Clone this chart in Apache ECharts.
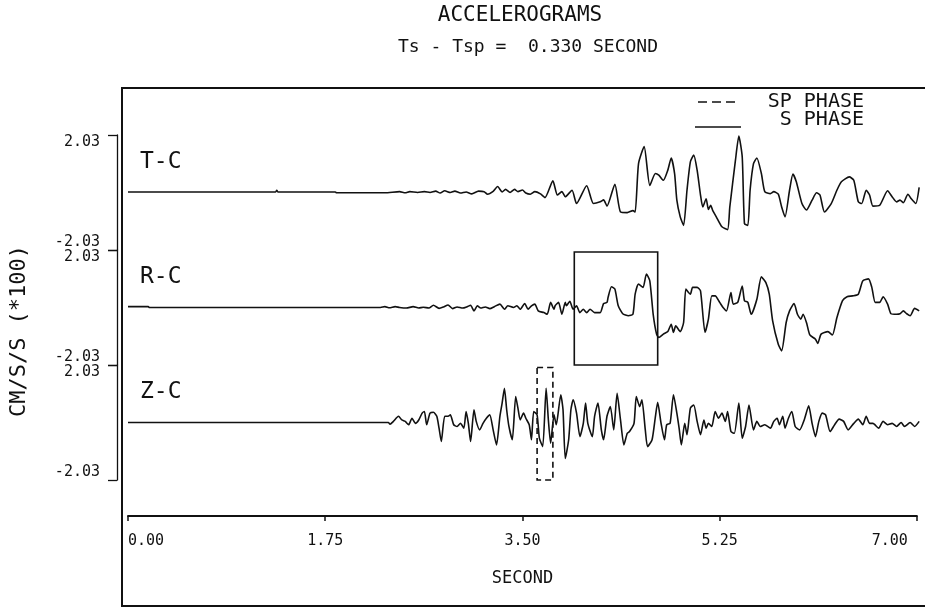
<!DOCTYPE html>
<html>
<head>
<meta charset="utf-8">
<script src="https://cdn.jsdelivr.net/npm/echarts@6.0.0/dist/echarts.min.js"></script>
<style>
  html, body { margin: 0; background: #fff; }
  #chart { width: 925px; height: 609px; }
</style>
</head>
<body>
<div id="chart"></div>
<script>
// accelerogram traces, [seconds, cm/s/s (*100)]
const traceNames = ['T-C', 'R-C', 'Z-C'];

const tcTrace = [
  [0, 0.02], [1.31, 0.02], [1.32, 0.08], [1.33, 0.02], [1.84, 0.02], [1.85, -0.01], [2.28, -0.01],
  [2.41, 0.03], [2.46, -0.01], [2.50, 0.03], [2.57, 0], [2.63, 0.03], [2.68, 0], [2.73, 0.05],
  [2.77, -0.02], [2.81, 0.06], [2.86, 0], [2.90, 0.05], [2.95, -0.02], [3.00, 0.02], [3.05, -0.05],
  [3.11, 0.05], [3.16, 0.03], [3.19, -0.06], [3.24, 0.04], [3.28, 0.21], [3.32, 0.02], [3.35, 0.11],
  [3.39, 0], [3.43, 0.11], [3.46, 0.03], [3.50, 0.09], [3.53, -0.02], [3.57, -0.06], [3.61, 0.03],
  [3.66, -0.05], [3.70, -0.18], [3.77, 0.41], [3.81, -0.09], [3.85, 0.03], [3.88, -0.15], [3.94, 0.08],
  [3.98, -0.39], [4.07, 0.24], [4.13, -0.39], [4.19, -0.33], [4.22, -0.26], [4.25, -0.48], [4.32, 0.29],
  [4.37, -0.69], [4.43, -0.71], [4.48, -0.64], [4.50, -0.69], [4.53, 1.02], [4.58, 1.62], [4.63, 0.25],
  [4.68, 0.67], [4.71, 0.61], [4.75, 0.43], [4.79, 0.79], [4.82, 1.22], [4.85, 0.67], [4.87, -0.27],
  [4.90, -0.86], [4.93, -1.16], [4.96, 0.08], [4.99, 1.08], [5.02, 1.32], [5.05, 0.79], [5.08, -0.09],
  [5.10, -0.51], [5.13, -0.22], [5.15, -0.60], [5.17, -0.45], [5.19, -0.65], [5.22, -0.86], [5.27, -1.21],
  [5.32, -1.31], [5.34, -0.51], [5.39, 1.14], [5.42, 1.99], [5.45, 1.26], [5.47, -1.10], [5.50, -1.16],
  [5.52, 0.08], [5.55, 1.02], [5.58, 1.22], [5.62, 0.67], [5.65, 0.03], [5.70, -0.04], [5.73, 0.03],
  [5.77, -0.06], [5.80, -0.51], [5.83, -0.86], [5.87, 0.08], [5.90, 0.65], [5.93, 0.38], [5.98, -0.39],
  [6.02, -0.62], [6.07, -0.27], [6.11, -0.01], [6.14, -0.09], [6.18, -0.69], [6.24, -0.39], [6.29, 0.08],
  [6.33, 0.38], [6.40, 0.55], [6.44, 0.43], [6.48, -0.33], [6.51, -0.39], [6.55, 0.08], [6.58, -0.09],
  [6.61, -0.48], [6.67, -0.45], [6.74, 0.06], [6.78, -0.15], [6.82, -0.33], [6.85, -0.27], [6.88, -0.36],
  [6.92, -0.06], [6.95, -0.22], [6.99, -0.39], [7.02, 0.18]
];

const rcTrace = [
  [0, 0.03], [0.18, 0.03], [0.19, 0], [2.12, 0], [2.24, 0], [2.28, 0.03], [2.32, -0.01], [2.37, 0.03],
  [2.41, 0], [2.47, -0.02], [2.53, 0.03], [2.58, -0.02], [2.62, 0.01], [2.67, -0.02], [2.71, 0.08],
  [2.76, -0.03], [2.80, 0.02], [2.84, 0.09], [2.88, -0.04], [2.92, 0.02], [2.97, -0.02], [3.01, 0.03],
  [3.04, 0.08], [3.07, -0.12], [3.10, 0.06], [3.13, -0.02], [3.17, 0.02], [3.21, -0.04], [3.25, 0.03],
  [3.30, 0.12], [3.34, -0.06], [3.37, 0.06], [3.42, 0], [3.45, 0.06], [3.48, -0.06], [3.52, 0.14],
  [3.55, -0.06], [3.58, 0.06], [3.61, 0.12], [3.64, -0.12], [3.69, -0.18], [3.72, -0.24], [3.75, 0.18],
  [3.78, -0.06], [3.79, 0.06], [3.82, 0.18], [3.85, -0.24], [3.88, 0.18], [3.89, 0.06], [3.92, 0.22],
  [3.95, -0.06], [3.98, 0.06], [4.01, -0.18], [4.04, -0.06], [4.07, -0.18], [4.10, -0.06], [4.14, -0.18],
  [4.19, -0.18], [4.22, 0.14], [4.25, 0.18], [4.26, 0.36], [4.29, 0.73], [4.32, 0.65], [4.35, 0.06],
  [4.39, -0.22], [4.44, -0.29], [4.48, -0.24], [4.50, 0.47], [4.53, 0.83], [4.57, 0.71], [4.60, 1.18],
  [4.63, 0.94], [4.66, -0.24], [4.69, -0.94], [4.71, -1.06], [4.75, -0.94], [4.79, -0.85], [4.82, -0.59],
  [4.84, -0.88], [4.86, -0.65], [4.90, -0.85], [4.93, -0.53], [4.95, 0.65], [4.99, 0.47], [5.01, 0.71],
  [5.05, 0.71], [5.08, 0.59], [5.12, -0.88], [5.15, -0.41], [5.18, 0.41], [5.21, 0.41], [5.25, 0.18],
  [5.28, 0], [5.31, -0.12], [5.35, 0.53], [5.37, 0.12], [5.41, 0.18], [5.45, 0.76], [5.47, 0.24],
  [5.50, 0.18], [5.53, -0.24], [5.58, 0.29], [5.62, 1.08], [5.66, 0.88], [5.69, 0.47], [5.72, -0.47],
  [5.77, -1.30], [5.80, -1.53], [5.84, -0.53], [5.87, -0.12], [5.91, 0.14], [5.94, -0.24], [5.97, -0.41],
  [5.99, -0.24], [6.02, -0.53], [6.05, -0.97], [6.10, -1.12], [6.12, -1.27], [6.15, -0.94], [6.21, -0.85],
  [6.25, -0.97], [6.29, -0.36], [6.34, 0.24], [6.38, 0.38], [6.43, 0.41], [6.48, 0.47], [6.52, 0.94],
  [6.57, 1.01], [6.60, 0.71], [6.63, 0.18], [6.67, 0.18], [6.70, 0.38], [6.74, 0.12], [6.77, -0.22],
  [6.82, -0.24], [6.85, -0.22], [6.88, -0.12], [6.91, -0.22], [6.94, -0.29], [6.98, -0.03], [7.02, -0.12]
];

const zcTrace = [
  [0, 0], [2.31, 0], [2.325, -0.06], [2.355, 0.04], [2.40, 0.22], [2.43, 0.09], [2.46, 0.04], [2.49, -0.08],
  [2.52, 0.15], [2.55, -0.03], [2.58, 0.09], [2.61, 0.33], [2.63, 0.39], [2.65, -0.08], [2.68, 0.33],
  [2.71, 0.36], [2.74, 0.22], [2.76, -0.2], [2.78, -0.67], [2.81, 0.22], [2.84, 0.22], [2.86, 0.27],
  [2.89, -0.08], [2.92, -0.14], [2.95, -0.03], [2.98, -0.2], [3.00, 0.39], [3.02, -0.03], [3.04, -0.67],
  [3.07, 0.45], [3.09, 0.04], [3.12, -0.26], [3.15, -0.03], [3.18, 0.15], [3.21, 0.27], [3.24, -0.26],
  [3.27, -0.79], [3.30, 0.22], [3.32, 0.69], [3.34, 1.21], [3.36, 0.45], [3.38, -0.14], [3.41, -0.61],
  [3.44, 0.92], [3.46, 0.51], [3.48, 0.09], [3.51, 0.33], [3.53, 0.15], [3.56, -0.08], [3.58, -0.61],
  [3.60, 0.39], [3.63, 0.27], [3.65, -0.55], [3.68, -0.85], [3.71, 1.21], [3.73, 0.09], [3.75, -0.73],
  [3.78, 0.27], [3.80, -0.08], [3.84, 0.98], [3.86, 0.45], [3.88, -1.27], [3.91, -0.61], [3.93, 0.45],
  [3.95, 0.80], [3.98, 0.33], [4.01, -0.50], [4.04, -0.03], [4.06, 0.69], [4.08, -0.03], [4.12, -0.50],
  [4.14, 0.22], [4.17, 0.69], [4.20, -0.26], [4.22, -0.61], [4.25, 0.22], [4.28, 0.56], [4.31, -0.26],
  [4.34, 1.03], [4.37, 0.09], [4.40, -0.79], [4.43, -0.38], [4.45, -0.32], [4.49, -0.03], [4.51, 0.92],
  [4.54, 0.56], [4.56, 0.80], [4.59, -0.26], [4.61, -0.85], [4.65, -0.61], [4.68, 0.22], [4.70, 0.71],
  [4.73, -0.03], [4.76, -0.61], [4.78, -0.08], [4.81, -0.03], [4.84, 0.98], [4.87, 0.33], [4.89, -0.2],
  [4.91, -0.79], [4.94, -0.03], [4.96, -0.43], [4.99, 0.51], [5.02, 0.62], [5.05, 0.04], [5.08, -0.43],
  [5.11, 0.09], [5.13, -0.2], [5.15, -0.03], [5.18, -0.14], [5.21, 0.39], [5.24, 0.15], [5.27, 0.33],
  [5.30, 0.04], [5.32, 0.39], [5.35, -0.32], [5.38, -0.38], [5.42, 0.69], [5.45, -0.55], [5.48, -0.14],
  [5.51, 0.62], [5.55, -0.26], [5.58, 0.04], [5.61, -0.14], [5.65, -0.08], [5.70, -0.2], [5.73, 0.04],
  [5.76, 0.15], [5.78, -0.08], [5.81, 0.22], [5.83, -0.2], [5.86, 0.15], [5.89, 0.39], [5.92, -0.14],
  [5.96, -0.26], [6.00, 0.09], [6.04, 0.59], [6.07, -0.03], [6.10, -0.50], [6.13, 0.04], [6.16, 0.33],
  [6.19, 0.27], [6.23, -0.32], [6.27, -0.08], [6.31, 0.12], [6.35, 0.04], [6.39, -0.26], [6.44, -0.03],
  [6.48, 0.12], [6.52, -0.08], [6.55, 0.22], [6.58, -0.03], [6.61, -0.03], [6.66, -0.2], [6.70, 0.04],
  [6.74, -0.08], [6.78, -0.03], [6.82, -0.14], [6.86, 0], [6.89, -0.14], [6.94, 0], [6.98, -0.14], [7.02, 0.04]
];

const ampLimit = 2.03;                 // each trace scaled to +-2.03
const secondTicks = [0, 1.75, 3.5, 5.25, 7.0];
const sPhaseWindow = [3.96, 4.70];     // solid box on R-C
const spPhaseWindow = [3.63, 3.77];    // dashed box on Z-C
const titleText = 'ACCELEROGRAMS';
const subtitleText = 'Ts - Tsp =  0.330 SECOND';
const yTitle = 'CM/S/S (*100)';
const xTitle = 'SECOND';

// plotter lettering is fixed pitch, so a mono face sits closest
const FONT = "'DejaVu Sans Mono', 'Liberation Mono', monospace";
const INK = '#111';
const plotLeft = 128;
const pxPerSec = 112.7;
const traceTop = [135, 250, 365];
const traceH = 115;
const traceMax = 7.03;

const traces = [tcTrace, rcTrace, zcTrace];

const chart = echarts.init(document.getElementById('chart'));

const grids = traces.map((_, i) => ({
  left: plotLeft, top: traceTop[i], width: traceMax * pxPerSec, height: traceH,
  outerBoundsMode: 'none'
}));
grids.push({ left: plotLeft, top: 505, width: 7 * pxPerSec, height: 11, outerBoundsMode: 'none' });

const xAxes = traces.map((_, i) => ({
  type: 'value', gridIndex: i, min: 0, max: traceMax, show: false
}));
xAxes.push({
  type: 'value', gridIndex: 3, min: 0, max: 7, interval: 1.75,
  axisLine: { show: true, lineStyle: { color: INK, width: 2 } },
  axisTick: { show: true, inside: false, length: 5, customValues: secondTicks,
    lineStyle: { color: INK, width: 1.5 } },
  splitLine: { show: false },
  axisLabel: {
    color: INK, fontFamily: FONT, fontSize: 15, margin: 18,
    customValues: secondTicks,
    alignMinLabel: 'left', alignMaxLabel: 'right',
    formatter: v => (v === 7 ? `{end|${v.toFixed(2)}}` : v.toFixed(2)),
    rich: { end: { fontFamily: FONT, fontSize: 15, color: INK, padding: [0, 9, 0, 0] } }
  },
  name: xTitle, nameLocation: 'middle', nameGap: 54,
  nameTextStyle: { color: INK, fontFamily: FONT, fontSize: 17 }
});

const yAxes = traces.map((_, i) => ({
  type: 'value', gridIndex: i, min: -ampLimit, max: ampLimit,
  position: 'left', offset: 11,
  axisLine: { show: true, onZero: false, lineStyle: { color: INK, width: 1.3 } },
  axisTick: { show: true, inside: false, length: 9, customValues: [-ampLimit, ampLimit],
    lineStyle: { color: INK, width: 1.3 } },
  splitLine: { show: false },
  axisLabel: {
    show: true, customValues: [-ampLimit, ampLimit], margin: 17,
    color: INK, fontFamily: FONT, fontSize: 15,
    verticalAlignMinLabel: 'bottom', verticalAlignMaxLabel: 'top',
    formatter: v => v.toFixed(2)
  }
}));
// the time axis grid needs a (hidden) y axis of its own
yAxes.push({ type: 'value', gridIndex: 3, min: 0, max: 1, show: false });

const boxStyle = (dashed) => ({
  color: 'rgba(0,0,0,0)', borderColor: INK, borderWidth: 1.6,
  borderType: dashed ? [6, 4] : 'solid'
});

const series = traces.map((data, i) => ({
  name: traceNames[i], type: 'line', xAxisIndex: i, yAxisIndex: i,
  data: data, showSymbol: false, smooth: 0.2, clip: false,
  lineStyle: { color: INK, width: 1.6 }, animation: false
}));
series[1].markArea = {
  silent: true, itemStyle: boxStyle(false),
  data: [[{ xAxis: sPhaseWindow[0], yAxis: 1.96 }, { xAxis: sPhaseWindow[1], yAxis: -2.05 }]]
};
series[2].markArea = {
  silent: true, itemStyle: boxStyle(true),
  data: [[{ xAxis: spPhaseWindow[0], yAxis: 1.94 }, { xAxis: spPhaseWindow[1], yAxis: -2.08 }]]
};

const txt = (text, x, y, size, align) => ({
  type: 'text', silent: true,
  style: { text, x, y, fill: INK, font: `${size}px ${FONT}`,
    align: align || 'center', verticalAlign: 'middle' }
});

const graphics = [
  { type: 'rect', silent: true, shape: { x: 122, y: 88, width: 830, height: 518 },
    style: { fill: 'none', stroke: INK, lineWidth: 2 } },
  txt(titleText, 520, 16, 21),
  txt(subtitleText, 528, 47, 18),
  { type: 'line', silent: true, shape: { x1: 698, y1: 102, x2: 736, y2: 102 },
    style: { stroke: INK, lineWidth: 1.5, lineDash: [9, 5] } },
  txt('SP PHASE', 864, 102, 20, 'right'),
  { type: 'line', silent: true, shape: { x1: 695, y1: 127, x2: 741, y2: 127 },
    style: { stroke: INK, lineWidth: 1.5 } },
  txt('S PHASE', 864, 120, 20, 'right'),
  { type: 'text', silent: true, x: 19, y: 331, rotation: Math.PI / 2,
    style: { text: yTitle, x: 0, y: 0, fill: INK, font: `22px ${FONT}`, align: 'center', verticalAlign: 'middle' } }
];
traceNames.forEach((name, i) => graphics.push(txt(name, 140, traceTop[i] + 27, 23, 'left')));

chart.setOption({
  backgroundColor: '#fff',
  animation: false,
  grid: grids,
  xAxis: xAxes,
  yAxis: yAxes,
  series: series,
  graphic: graphics
});
</script>
</body>
</html>
